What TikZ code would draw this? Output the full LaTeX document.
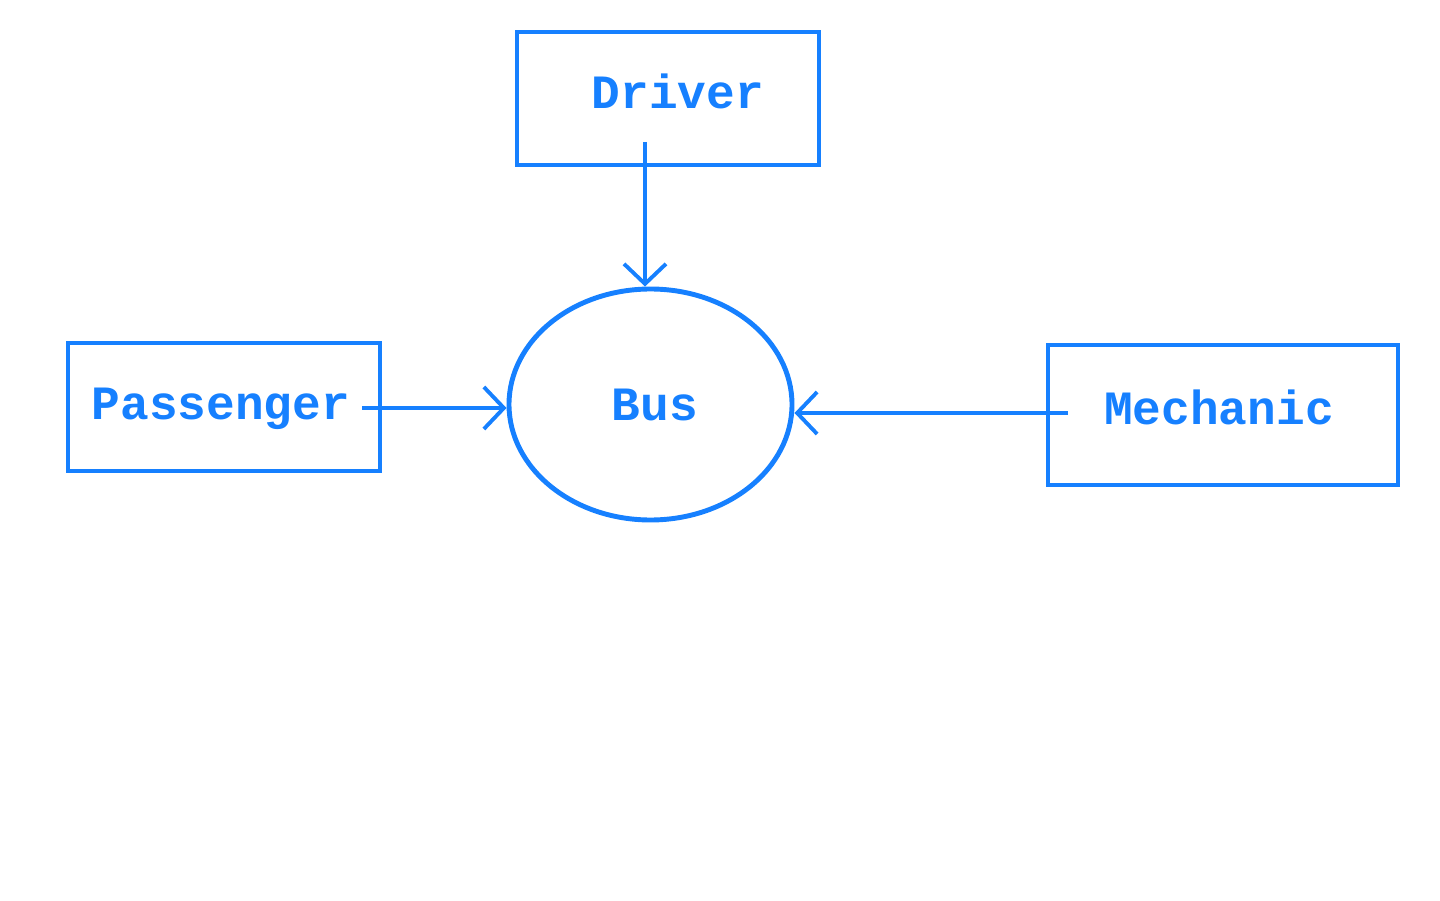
\documentclass[tikz,border=0pt]{standalone}
\usepackage{fontspec}
\setmonofont{Liberation Mono}
\usepackage{xcolor}
\usepackage{tikz}
\usetikzlibrary{shapes,arrows.meta,positioning,calc}
\definecolor{busblue}{RGB}{22,128,255}
\tikzset{
    entity/.style={draw=busblue,line width=1.1pt,rectangle},
    lbl/.style={text=busblue,font=\fontsize{13.6}{16}\ttfamily\bfseries},
    flow/.style={draw=busblue,line width=1.1pt,-{Straight Barb[length=2mm,width=4.2mm,line width=1.1pt]}}
}
\begin{document}
\begin{tikzpicture}
    \useasboundingbox (0,0) rectangle (14.4,9);

    % External entities
    \node[entity,minimum width=3.02cm,minimum height=1.33cm] (driver) at (6.68,8.015) {};
    \node[lbl] (driverlbl) at (6.78,8.09) {Driver};
    \node[entity,minimum width=3.12cm,minimum height=1.28cm] (passenger) at (2.24,4.93) {};
    \node[lbl] (passengerlbl) at (2.21,4.91) {Passenger};
    \node[entity,minimum width=3.50cm,minimum height=1.40cm] (mechanic) at (12.23,4.85) {};
    \node[lbl] (mechaniclbl) at (12.19,4.93) {Mechanic};

    % System
    \node[draw=busblue,line width=1.4pt,ellipse,inner sep=0pt,minimum width=2.83cm,minimum height=2.31cm] (bus) at (6.505,4.955) {};
    \node[lbl] (buslbl) at (6.55,4.955) {Bus};

    % Flows
    \coordinate (drvout) at (6.45,7.58);
    \coordinate (pasout) at (3.62,4.92);
    \coordinate (mecout) at (10.68,4.87);
    \draw[flow] (drvout) -- (drvout |- bus.north);
    \draw[flow] (pasout) -- (pasout -| bus.west);
    \draw[flow] (mecout) -- (mecout -| bus.east);
\end{tikzpicture}
\end{document}
